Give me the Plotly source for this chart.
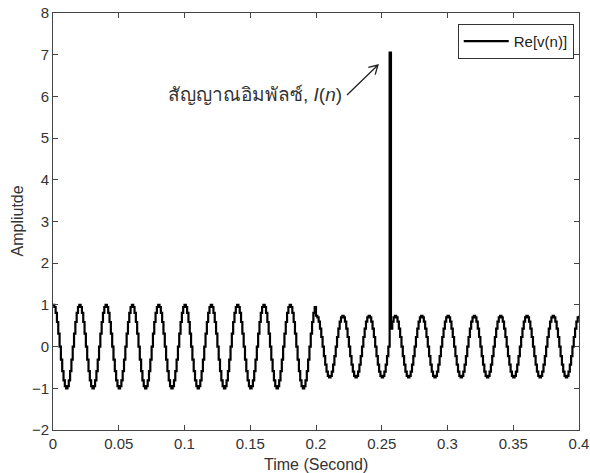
import numpy as np
import plotly.graph_objects as go

fs = 1000  # samples per second

# one 50 Hz period (20 samples), before and after t = 0.2 s
cycle_before = [1.0, 0.95, 0.81, 0.59, 0.31, 0.0, -0.31, -0.59, -0.81, -0.95,
                -1.0, -0.95, -0.81, -0.59, -0.31, 0.0, 0.31, 0.59, 0.81, 0.95]
cycle_after = [0.74, 0.70, 0.60, 0.43, 0.23, 0.0, -0.23, -0.43, -0.60, -0.70,
               -0.74, -0.70, -0.60, -0.43, -0.23, 0.0, 0.23, 0.43, 0.60, 0.70]
n_cycles_before = 10
n_cycles_after = 10
last_sample = 0.74

impulse_index = 256
impulse_value = 7.05

x_ticks = [0, 0.05, 0.1, 0.15, 0.2, 0.25, 0.3, 0.35, 0.4]
y_ticks = [-2, -1, 0, 1, 2, 3, 4, 5, 6, 7, 8]

v = cycle_before * n_cycles_before + cycle_after * n_cycles_after + [last_sample]
v[impulse_index] = impulse_value
t = np.arange(len(v)) / fs

fig = go.Figure()
fig.add_trace(go.Scatter(
    x=t, y=v,
    mode='lines',
    line=dict(color='black', width=2.2, shape='hv'),
    name='Re[v(n)]'
))

# plot box in page pixels (body margin is removed below)
FW, FH = 590, 473
L, T, W, H = 53, 13, 526, 417
def px(xp, yp):
    # page pixel -> data coords
    return (xp - L) / W * 0.4, 8 - (yp - T) / H * 10

tail = px(347, 95)
head = px(378, 65)
arm1 = px(368.3, 67.4)
arm2 = px(375.2, 74.6)
fig.add_shape(type='path', xref='x', yref='y',
              path=f'M {tail[0]},{tail[1]} L {head[0]},{head[1]} '
                   f'M {arm1[0]},{arm1[1]} L {head[0]},{head[1]} L {arm2[0]},{arm2[1]}',
              line=dict(color='#222222', width=1.3))

fig.add_annotation(
    x=tail[0], y=tail[1], xref='x', yref='y',
    text='สัญญาณอิมพัลซ์, <i>I</i>(<i>n</i>)',
    showarrow=False, xanchor='right', yanchor='middle', xshift=-3,
    font=dict(size=19, color='#333333')
)

# axis titles placed by hand
fig.add_annotation(x=0.5, y=-34 / H, xref='paper', yref='paper',
                   text='Time (Second)', showarrow=False,
                   xanchor='center', yanchor='middle',
                   font=dict(size=16, color='#333333'))
fig.add_annotation(x=-36 / W, y=0.5, xref='paper', yref='paper',
                   text='Ampliutde', showarrow=False, textangle=-90,
                   xanchor='center', yanchor='middle',
                   font=dict(size=16, color='#333333'))

axis_style = dict(
    showgrid=False, zeroline=False, showline=True, mirror='ticks',
    linecolor='#444444', linewidth=1, ticks='inside', ticklen=5,
    tickcolor='#444444', tickfont=dict(size=15, color='#333333'),
    automargin=False, ticklabeloverflow='allow',
)

fig.update_layout(
    width=FW, height=FH,
    margin=dict(l=L, r=FW - L - W, t=T, b=FH - T - H),
    paper_bgcolor='white', plot_bgcolor='white',
    font=dict(family='Liberation Sans, Arial, sans-serif', size=14, color='#333333'),
    xaxis=dict(range=[0, 0.4], tickvals=x_ticks, ticklabelstandoff=0, **axis_style),
    yaxis=dict(range=[-2, 8], tickvals=y_ticks, ticklabelstandoff=0, **axis_style),
    legend=dict(x=0.99, y=0.974, xanchor='right', yanchor='top',
                bgcolor='white', bordercolor='#333333', borderwidth=1,
                itemwidth=45, font=dict(size=15, color='#222222')),
    showlegend=True,
)

fig.write_html("out.html", config={'displayModeBar': False},
               post_script="document.body.style.margin='0px';")
